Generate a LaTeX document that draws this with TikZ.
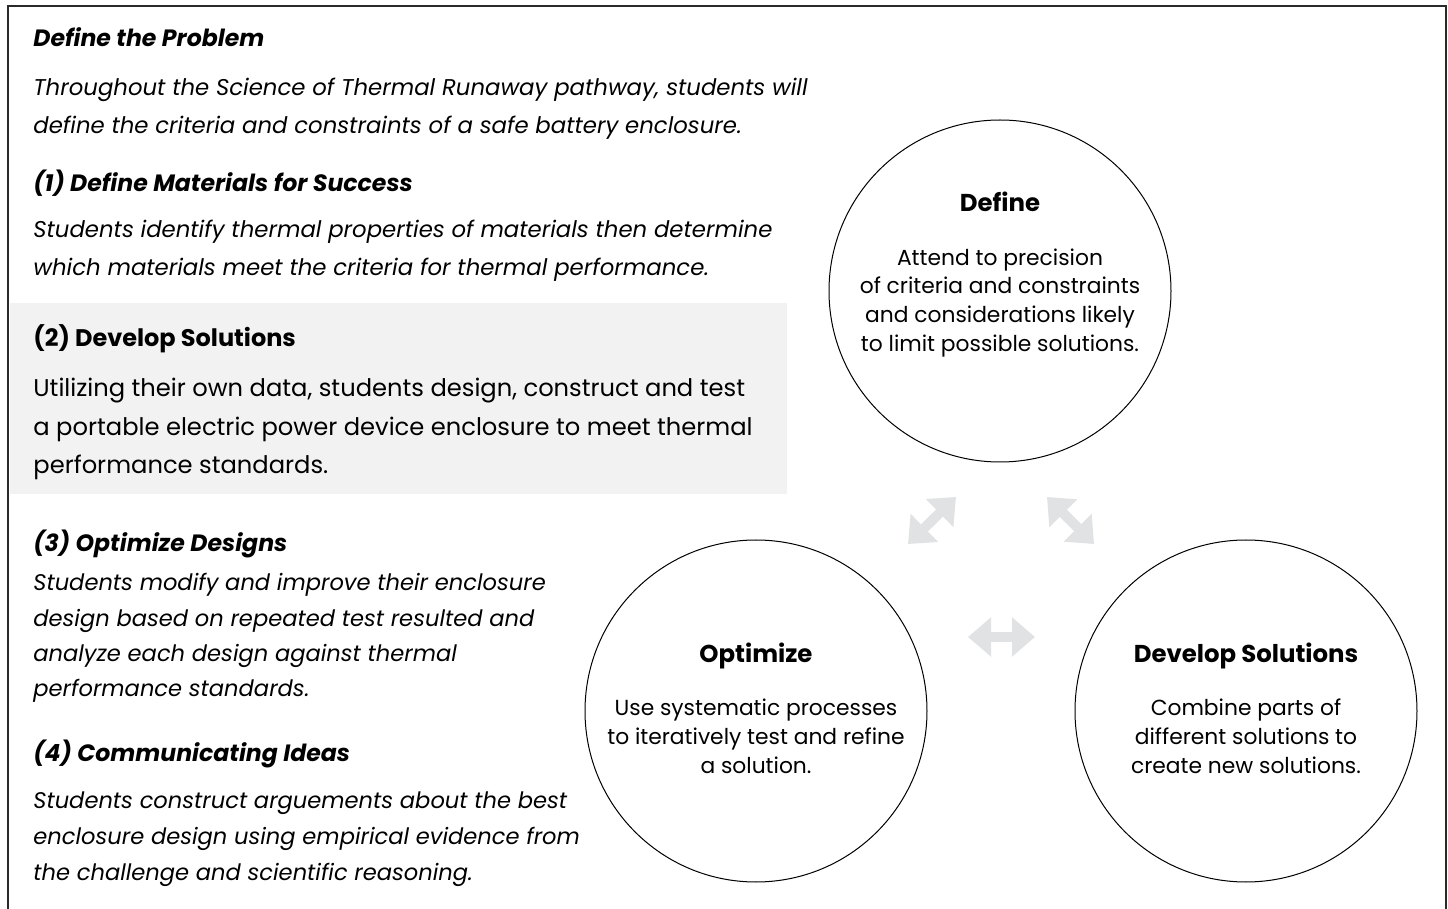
\documentclass[tikz,border=0pt]{standalone}
\usepackage{fontspec}
\setmainfont{Poppins}
\usepackage{tikz}
\usetikzlibrary{arrows.meta}

\definecolor{boxgray}{HTML}{F2F2F2}
\definecolor{arrowgray}{HTML}{E1E2E4}
\definecolor{framegray}{HTML}{2A2A2A}

\begin{document}
\begin{tikzpicture}[x=0.5pt,y=-0.5pt,
    head/.style={anchor=base west,inner sep=0pt,
                 font={\fontsize{11.8}{13}\selectfont\bfseries\itshape}},
    para/.style={anchor=base west,inner sep=0pt,align=left,
                 font={\fontsize{11.4}{19}\selectfont\itshape}},
    bighead/.style={anchor=base west,inner sep=0pt,
                 font={\fontsize{12}{13}\selectfont\bfseries}},
    bigpara/.style={anchor=base west,inner sep=0pt,align=left,
                 font={\fontsize{12.1}{19.4}\selectfont}},
    bubble/.style={circle,draw,line width=0.5pt,minimum size=171pt,inner sep=0pt},
    ctitle/.style={anchor=base,inner sep=0pt,
                 font={\fontsize{12.2}{13}\selectfont\bfseries}},
    cbody/.style={anchor=base,inner sep=0pt,align=center,
                 font={\fontsize{10.9}{14.5}\selectfont}},
    twoway/.style={arrowgray,line width=5pt,
                 {Triangle[width=19pt,length=11.5pt]}-{Triangle[width=19pt,length=11.5pt]}}]

\useasboundingbox (0,0) rectangle (1448,909);

% frame and highlighted step
\draw[framegray,line width=0.6pt] (8,909) -- (8,6) -- (1446,6) -- (1446,909);
\fill[boxgray] (10,303) rectangle (787,494);

% left column (multi-line nodes sit on their last line)
\node[head] (H0) at (33,47) {Define the Problem};
\node[para] (P0) at (33,134) {Throughout the Science of Thermal Runaway pathway, students will\\
  define the criteria and constraints of a safe battery enclosure.};
\node[head] (H1) at (33,192) {(1) Define Materials for Success};
\node[para] (P1) at (33,276) {Students identify thermal properties of materials then determine\\
  which materials meet the criteria for thermal performance.};
\node[bighead] (H2) at (33,347) {(2) Develop Solutions};
\node[bigpara] (P2) at (33,474) {Utilizing their own data, students design, construct and test\\
  a portable electric power device enclosure to meet thermal\\
  performance standards.};
\node[head] (H3) at (33,552) {(3) Optimize Designs};
\node[para,font={\fontsize{11.3}{17.7}\selectfont\itshape}] (P3) at (33,697)
  {Students modify and improve their enclosure\\
  design based on repeated test resulted and\\
  analyze each design against thermal\\
  performance standards.};
\node[head] (H4) at (33,762) {(4) Communicating Ideas};
\node[para,font={\fontsize{11.3}{17.9}\selectfont\itshape}] (P4) at (33,880)
  {Students construct arguements about the best\\
  enclosure design using empirical evidence from\\
  the challenge and scientific reasoning.};

% the three steps
\node[bubble] (define) at (1000,291) {};
\node[bubble] (optimize) at (756,711) {};
\node[bubble] (develop) at (1246,711) {};

\node[ctitle] (defineT) at (1000,212) {Define};
\node[cbody] (defineB) at (1000,352) {Attend to precision\\of criteria and constraints\\
  and considerations likely\\to limit possible solutions.};
\node[ctitle] (optimizeT) at (756,662) {Optimize};
\node[cbody] (optimizeB) at (756,773) {Use systematic processes\\
  to iteratively test and refine\\a solution.};
\node[ctitle] (developT) at (1246,662) {Develop Solutions};
\node[cbody] (developB) at (1246,773) {Combine parts of\\
  different solutions to\\create new solutions.};

% two-way arrows
\coordinate (ad) at (956,497);
\coordinate (ao) at (908,544);
\coordinate (bd) at (1047,497);
\coordinate (bs) at (1094,544);
\coordinate (co) at (968,637);
\coordinate (cs) at (1035,637);
\draw[twoway] (ao) -- (ad);
\draw[twoway] (bd) -- (bs);
\draw[twoway] (co) -- (cs);
\end{tikzpicture}
\end{document}
